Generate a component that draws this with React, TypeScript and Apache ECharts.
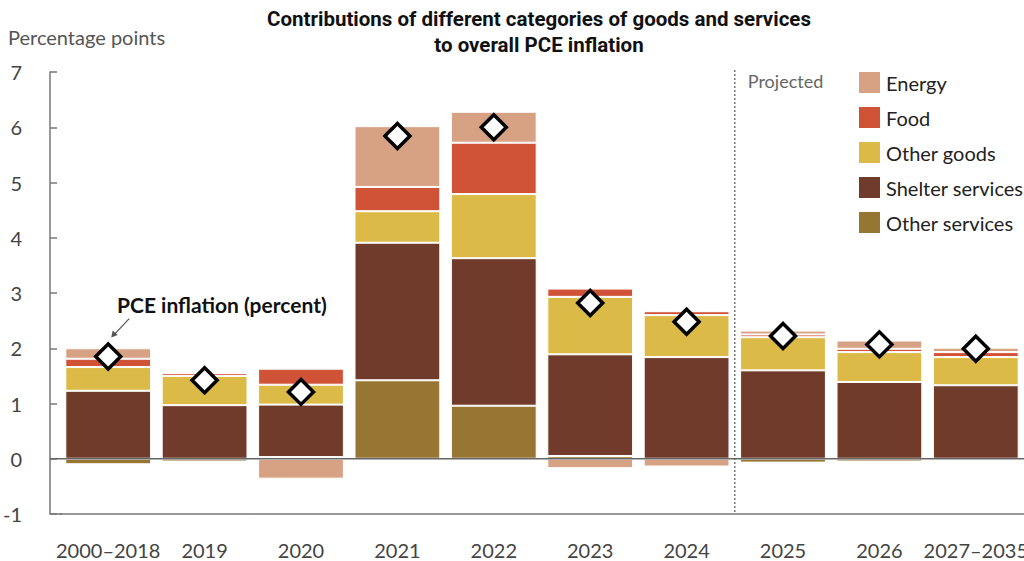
import React, { useEffect, useRef } from "react";
import * as echarts from "echarts";

const categories = ["2000–2018", "2019", "2020", "2021", "2022", "2023", "2024", "2025", "2026", "2027–2035"];
const otherServices = [-0.1, -0.05, 0.03, 1.42, 0.96, 0.05, 0, -0.07, -0.05, 0];
const shelter = [1.23, 0.97, 0.95, 2.49, 2.67, 1.84, 1.84, 1.6, 1.39, 1.33];
const otherGoods = [0.43, 0.53, 0.36, 0.57, 1.16, 1.04, 0.76, 0.6, 0.54, 0.51];
const food = [0.15, 0.05, 0.29, 0.44, 0.93, 0.15, 0.07, 0.05, 0.06, 0.09];
const energy = [0.19, 0.02, -0.36, 1.1, 0.56, -0.17, -0.14, 0.07, 0.15, 0.08];
const pce = [1.85, 1.42, 1.21, 5.84, 6.0, 2.82, 2.48, 2.22, 2.07, 1.99];
const yTicks = { min: -1, max: 7, interval: 1 };

const COLORS = {
  energy: "#D7A284",
  food: "#D15337",
  otherGoods: "#DBBA47",
  shelter: "#703B2B",
  otherServices: "#977533",
};

const FONT = "Lato, 'Noto Sans', sans-serif";

export default function App() {
  const ref = useRef<HTMLDivElement>(null);
  useEffect(() => {
    if (!ref.current) return;
    const chart = echarts.init(ref.current, null, { renderer: "svg" });
    const barSeries = (name: string, data: number[], color: string) => ({
      name,
      type: "bar",
      stack: "total",
      data,
      barCategoryGap: "11%",
      itemStyle: { color, borderColor: "#ffffff", borderWidth: 1 },
    });
    chart.setOption({
      animation: false,
      textStyle: { fontFamily: FONT },
      grid: { left: 60, right: 0, top: 72, bottom: 47, outerBoundsMode: "none", containLabel: false },
      legend: {
        orient: "vertical",
        left: 857,
        top: 70,
        padding: 0,
        itemWidth: 23,
        itemHeight: 23,
        itemGap: 10,
        icon: "rect",
        textStyle: { fontSize: 20, color: "#222", fontFamily: FONT },
        data: ["Energy", "Food", "Other goods", "Shelter services", "Other services"],
      },
      xAxis: {
        type: "category",
        data: categories,
        axisLine: { onZero: false, lineStyle: { color: "#777", width: 1.5 } },
        axisTick: { inside: true, alignWithLabel: true, length: 7, lineStyle: { color: "#777", width: 1.5 } },
        axisLabel: { fontSize: 20, color: "#444", margin: 26, fontFamily: FONT, interval: 0 },
      },
      yAxis: {
        type: "value",
        min: yTicks.min,
        max: yTicks.max,
        interval: yTicks.interval,
        offset: 10,
        axisLine: { show: true, lineStyle: { color: "#777", width: 1.5 } },
        axisTick: { show: true, inside: true, length: 7, lineStyle: { color: "#777", width: 1.5 } },
        axisLabel: { fontSize: 20, color: "#444", margin: 28, fontFamily: FONT },
        splitLine: { show: false },
      },
      series: [
        barSeries("Other services", otherServices, COLORS.otherServices),
        barSeries("Shelter services", shelter, COLORS.shelter),
        barSeries("Other goods", otherGoods, COLORS.otherGoods),
        barSeries("Food", food, COLORS.food),
        barSeries("Energy", energy, COLORS.energy),
        {
          name: "PCE inflation",
          type: "scatter",
          data: pce,
          symbol: "diamond",
          symbolSize: 25,
          z: 10,
          itemStyle: { color: "#ffffff", borderColor: "#000000", borderWidth: 3.5, opacity: 1 },
        },
      ],
    });

    const y0 = chart.convertToPixel({ yAxisIndex: 0 }, 0) as number;
    const yBottom = chart.convertToPixel({ yAxisIndex: 0 }, yTicks.min) as number;
    const yTop = chart.convertToPixel({ yAxisIndex: 0 }, yTicks.max) as number;
    const x6 = chart.convertToPixel({ xAxisIndex: 0 }, categories[6]) as number;
    const x7 = chart.convertToPixel({ xAxisIndex: 0 }, categories[7]) as number;
    const xp = (x6 + x7) / 2;
    const x0 = chart.convertToPixel({ xAxisIndex: 0 }, categories[0]) as number;
    const yP0 = chart.convertToPixel({ yAxisIndex: 0 }, pce[0]) as number;
    const axisX = 50;

    chart.setOption({
      graphic: [
        {
          type: "text",
          x: 539,
          y: 6,
          style: {
            text: "Contributions of different categories of goods and services\nto overall PCE inflation",
            fontFamily: "Roboto, sans-serif",
            fontWeight: "bold",
            fontSize: 20.5,
            lineHeight: 26,
            fill: "#111",
            align: "center",
            textAlign: "center",
          },
          z: 100,
        },
        {
          type: "text",
          x: 8,
          y: 27,
          style: { text: "Percentage points", fontFamily: FONT, fontSize: 20, fill: "#555" },
        },
        {
          type: "line",
          shape: { x1: axisX, y1: y0, x2: 1024, y2: y0 },
          style: { stroke: "#666", lineWidth: 1.5 },
          z: 20,
        },
        {
          type: "line",
          shape: { x1: axisX, y1: yBottom, x2: 62, y2: yBottom },
          style: { stroke: "#777", lineWidth: 1.5 },
          z: 20,
        },
        {
          type: "line",
          shape: { x1: xp, y1: yTop - 2, x2: xp, y2: yBottom },
          style: { stroke: "#555", lineWidth: 1.2, lineDash: [2, 2] },
          z: 20,
        },
        {
          type: "text",
          x: xp + 13,
          y: 72,
          style: { text: "Projected", fontFamily: FONT, fontSize: 18, fill: "#666" },
        },
        {
          type: "text",
          x: 117,
          y: 294,
          style: { text: "PCE inflation (percent)", fontFamily: FONT, fontWeight: "bold", fontSize: 21, fill: "#111" },
          z: 30,
        },
        {
          type: "line",
          shape: { x1: x0 + 21, y1: yP0 - 38, x2: x0 + 5, y2: yP0 - 21 },
          style: { stroke: "#555", lineWidth: 1.2 },
          z: 30,
        },
        {
          type: "polygon",
          shape: {
            points: [
              [x0 + 3, yP0 - 19],
              [x0 + 4.5, yP0 - 26],
              [x0 + 9.5, yP0 - 21.5],
            ],
          },
          style: { fill: "#555" },
          z: 30,
        },
      ],
    });

    return () => chart.dispose();
  }, []);
  return (
    <div
      ref={ref}
      style={{ position: "fixed", left: 0, top: 0, width: 1024, height: 561, background: "#fff" }}
    />
  );
}
